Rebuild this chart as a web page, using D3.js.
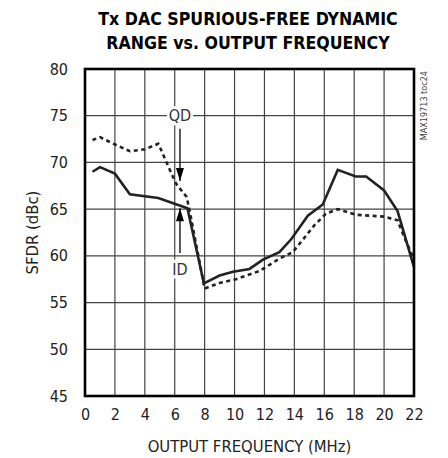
<!DOCTYPE html>
<meta charset="utf-8" />
<script src="https://d3js.org/d3.v7.min.js"></script>
<body style="margin:0;background:#fff">
  <div id="chart"></div>
  <script>
    // ID (solid) and QD (dashed) SFDR curves
    const idFreq = [0.5, 1.0, 2.0, 3.0, 4.9, 6.85, 7.95, 9.0, 9.9, 11.0, 11.9, 13.0, 13.8, 14.9, 15.9, 16.9, 18.1, 18.8, 20.0, 20.9, 22.0];
    const idSfdr = [69.0, 69.5, 68.8, 66.6, 66.2, 65.1, 57.05, 57.9, 58.3, 58.6, 59.6, 60.4, 61.8, 64.3, 65.5, 69.2, 68.5, 68.5, 67.0, 64.8, 58.8];
    const qdFreq = [0.5, 1.0, 1.9, 3.0, 4.0, 4.9, 5.1, 5.7, 6.1, 6.8, 7.0, 8.0, 9.0, 10.1, 11.7, 13.0, 13.9, 14.4, 15.3, 16.1, 16.9, 18.1, 20.0, 20.9, 21.4, 22.0];
    const qdSfdr = [72.4, 72.7, 72.0, 71.2, 71.4, 72.0, 71.3, 69.1, 67.7, 66.3, 64.8, 56.5, 57.1, 57.5, 58.4, 59.7, 60.4, 61.4, 63.2, 64.5, 65.0, 64.4, 64.2, 63.8, 61.8, 59.6];
    const xTicks = [0, 2, 4, 6, 8, 10, 12, 14, 16, 18, 20, 22];
    const yTicks = [45, 50, 55, 60, 65, 70, 75, 80];

    const W = 448, H = 458;
    const margin = { top: 69, right: 34, bottom: 62, left: 85 };
    const width = W - margin.left - margin.right,
      height = H - margin.top - margin.bottom;
    const font = "'DejaVu Sans Condensed', 'DejaVu Sans', sans-serif";

    const svg = d3.select("#chart").append("svg")
      .attr("width", W).attr("height", H)
      .style("font-family", font).style("font-stretch", "condensed");

    // title
    svg.append("text").attr("x", 248).attr("y", 25).attr("text-anchor", "middle")
      .style("font-size", "17.6px").style("font-weight", "bold")
      .text("Tx DAC SPURIOUS-FREE DYNAMIC");
    svg.append("text").attr("x", 248).attr("y", 49).attr("text-anchor", "middle")
      .style("font-size", "17.6px").style("font-weight", "bold")
      .text("RANGE vs. OUTPUT FREQUENCY");

    const g = svg.append("g").attr("transform", "translate(" + margin.left + "," + margin.top + ")");

    const x = d3.scaleLinear().domain([0, 22]).range([0, width]);
    const y = d3.scaleLinear().domain([45, 80]).range([height, 0]);

    // grid
    g.append("g").selectAll("line").data(xTicks).enter().append("line")
      .attr("x1", d => x(d)).attr("x2", d => x(d))
      .attr("y1", 0).attr("y2", height)
      .attr("stroke", "#444").attr("stroke-width", 1.2);
    g.append("g").selectAll("line").data(yTicks).enter().append("line")
      .attr("y1", d => y(d)).attr("y2", d => y(d))
      .attr("x1", 0).attr("x2", width)
      .attr("stroke", "#444").attr("stroke-width", 1.2);

    // axes tick labels
    const xAxis = g.append("g").attr("transform", "translate(0," + height + ")")
      .call(d3.axisBottom(x).tickValues(xTicks).tickSize(0).tickPadding(13));
    const yAxis = g.append("g")
      .call(d3.axisLeft(y).tickValues(yTicks).tickSize(0).tickPadding(17));
    [xAxis, yAxis].forEach(a => {
      a.select(".domain").remove();
      a.selectAll("text").style("font-family", font).style("font-size", "16px").attr("fill", "#222");
    });

    // curves
    const line = d3.line().x(d => x(d[0])).y(d => y(d[1]));
    g.append("path").datum(d3.zip(qdFreq, qdSfdr)).attr("d", line)
      .attr("fill", "none").attr("stroke", "#222").attr("stroke-width", 2.6)
      .attr("stroke-dasharray", "4,3.5");
    g.append("path").datum(d3.zip(idFreq, idSfdr)).attr("d", line)
      .attr("fill", "none").attr("stroke", "#222").attr("stroke-width", 2.6);

    // annotations
    const ann = g.append("g");
    function label(txt, fx, fy) {
      const lg = ann.append("g");
      const bg = lg.append("rect").attr("fill", "#fff");
      const t = lg.append("text").attr("x", x(fx)).attr("y", y(fy)).attr("text-anchor", "middle")
        .attr("dy", "0.35em").style("font-size", "16px").attr("fill", "#333").text(txt);
      const b = t.node().getBBox();
      bg.attr("x", b.x - 2).attr("y", b.y).attr("width", b.width + 4).attr("height", b.height);
    }
    label("QD", 6.35, 75);
    label("ID", 6.35, 58.6);

    function arrow(fx, y1, y2) {
      ann.append("line").attr("x1", x(fx)).attr("x2", x(fx)).attr("y1", y(y1)).attr("y2", y(y2))
        .attr("stroke", "#000").attr("stroke-width", 1.3);
      const dir = y(y2) > y(y1) ? 1 : -1;
      const tx = x(fx), ty = y(y2);
      ann.append("path")
        .attr("d", "M" + (tx - 4) + "," + (ty - dir * 13) + " L" + (tx + 4) + "," + (ty - dir * 13) + " L" + tx + "," + ty + " z")
        .attr("fill", "#000");
    }
    arrow(6.35, 73.6, 68.0);
    arrow(6.35, 60.3, 65.1);

    // frame
    g.append("rect").attr("width", width).attr("height", height)
      .attr("fill", "none").attr("stroke", "#000").attr("stroke-width", 2.6);

    // axis titles
    svg.append("text").attr("x", margin.left + width / 2).attr("y", 452).attr("text-anchor", "middle")
      .style("font-size", "16.5px").attr("fill", "#222").text("OUTPUT FREQUENCY (MHz)");
    svg.append("text").attr("transform", "translate(38," + (margin.top + height / 2) + ") rotate(-90)")
      .attr("text-anchor", "middle").style("font-size", "16.5px").attr("fill", "#222").text("SFDR (dBc)");
    svg.append("text").attr("transform", "translate(427,71) rotate(-90)")
      .attr("text-anchor", "end").style("font-size", "9px").attr("fill", "#444").text("MAX19713 toc24");
  </script>
</body>
